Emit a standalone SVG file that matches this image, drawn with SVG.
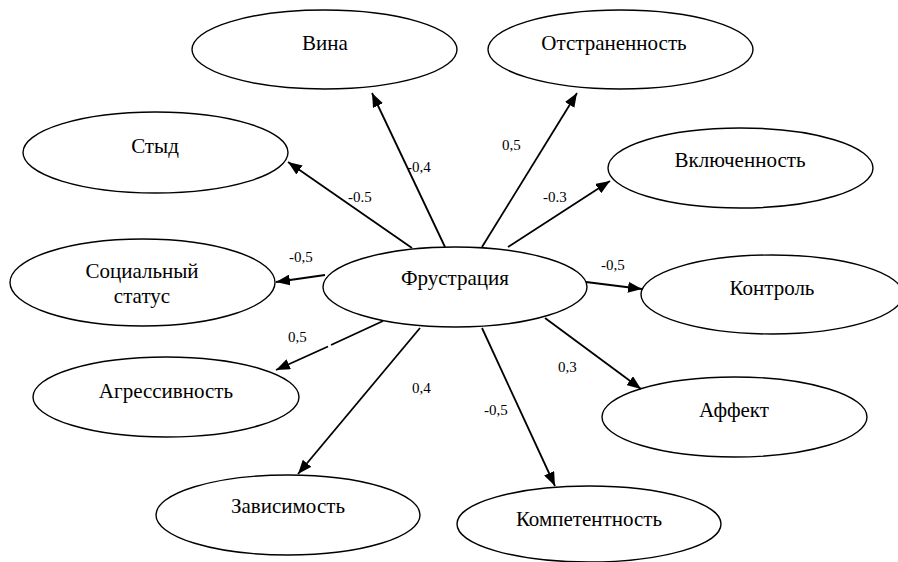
<svg xmlns="http://www.w3.org/2000/svg" width="898" height="562" viewBox="0 0 898 562" font-family="'Liberation Serif', 'Times New Roman', serif">
<defs>
<style>
.n ellipse{fill:#fff;stroke:#000;stroke-width:1.4}
.n text{font-size:21px;fill:#000;text-anchor:middle}
.c line,.c path{stroke:#000;stroke-width:1.8;fill:none;marker-end:url(#ah)}
.lbl{font-size:15px;fill:#000}
</style>
<marker id="ah" markerWidth="14" markerHeight="11" refX="14" refY="5.5" orient="auto" markerUnits="userSpaceOnUse">
<path d="M0,0 L14,5.5 L0,11 z" fill="#000"/>
</marker>
</defs>
<rect width="898" height="562" fill="#fff"/>
<g id="vina" class="n"><ellipse cx="324.5" cy="49.5" rx="132.5" ry="39.5"/><text x="325" y="50">Вина</text></g>
<g id="otstr" class="n"><ellipse cx="620.5" cy="49.5" rx="132.5" ry="39.5"/><text x="614" y="50">Отстраненность</text></g>
<g id="styd" class="n"><ellipse cx="155.5" cy="152.5" rx="132.5" ry="40.5"/><text x="155" y="153">Стыд</text></g>
<g id="vkl" class="n"><ellipse cx="740.5" cy="168" rx="132.5" ry="40"/><text x="740" y="167">Включенность</text></g>
<g id="soc" class="n"><ellipse cx="142.5" cy="282.5" rx="132.5" ry="43.5"/><text x="142" y="278">Социальный</text><text x="142" y="303">статус</text></g>
<g id="frust" class="n"><ellipse cx="455" cy="287" rx="132" ry="40"/><text x="455" y="285">Фрустрация</text></g>
<g id="kontr" class="n"><ellipse cx="772" cy="294.5" rx="131" ry="39.5"/><text x="772" y="295">Контроль</text></g>
<g id="agr" class="n"><ellipse cx="166" cy="397" rx="133" ry="40"/><text x="166" y="398">Агрессивность</text></g>
<g id="aff" class="n"><ellipse cx="734.5" cy="417" rx="132.5" ry="40"/><text x="734" y="417">Аффект</text></g>
<g id="zav" class="n"><ellipse cx="288" cy="515" rx="132" ry="40"/><text x="288" y="513">Зависимость</text></g>
<g id="komp" class="n"><ellipse cx="589" cy="524" rx="132" ry="38"/><text x="589" y="526">Компетентность</text></g>
<g id="connectors" class="c">
<line x1="445" y1="247" x2="372" y2="93"/>
<line x1="482" y1="247" x2="577" y2="93"/>
<line x1="412" y1="248" x2="288" y2="162"/>
<line x1="508" y1="247" x2="610" y2="181"/>
<line x1="325" y1="275" x2="276" y2="282"/>
<line x1="586" y1="282" x2="642" y2="289"/>
<path d="M383,321 L331,345 M328,346.5 L276,370"/>
<line x1="545" y1="318" x2="641" y2="389"/>
<line x1="420" y1="328" x2="298" y2="474"/>
<line x1="482" y1="328" x2="555" y2="486"/>
</g>
<g id="labels">
<text class="lbl" x="407" y="172">-0,4</text>
<text class="lbl" x="502" y="150">0,5</text>
<text class="lbl" x="348" y="202">-0.5</text>
<text class="lbl" x="543" y="202">-0.3</text>
<text class="lbl" x="289" y="262">-0,5</text>
<text class="lbl" x="601" y="270">-0,5</text>
<text class="lbl" x="288" y="342">0,5</text>
<text class="lbl" x="412" y="393">0,4</text>
<text class="lbl" x="484" y="415">-0,5</text>
<text class="lbl" x="558" y="372">0,3</text>
</g>
</svg>
